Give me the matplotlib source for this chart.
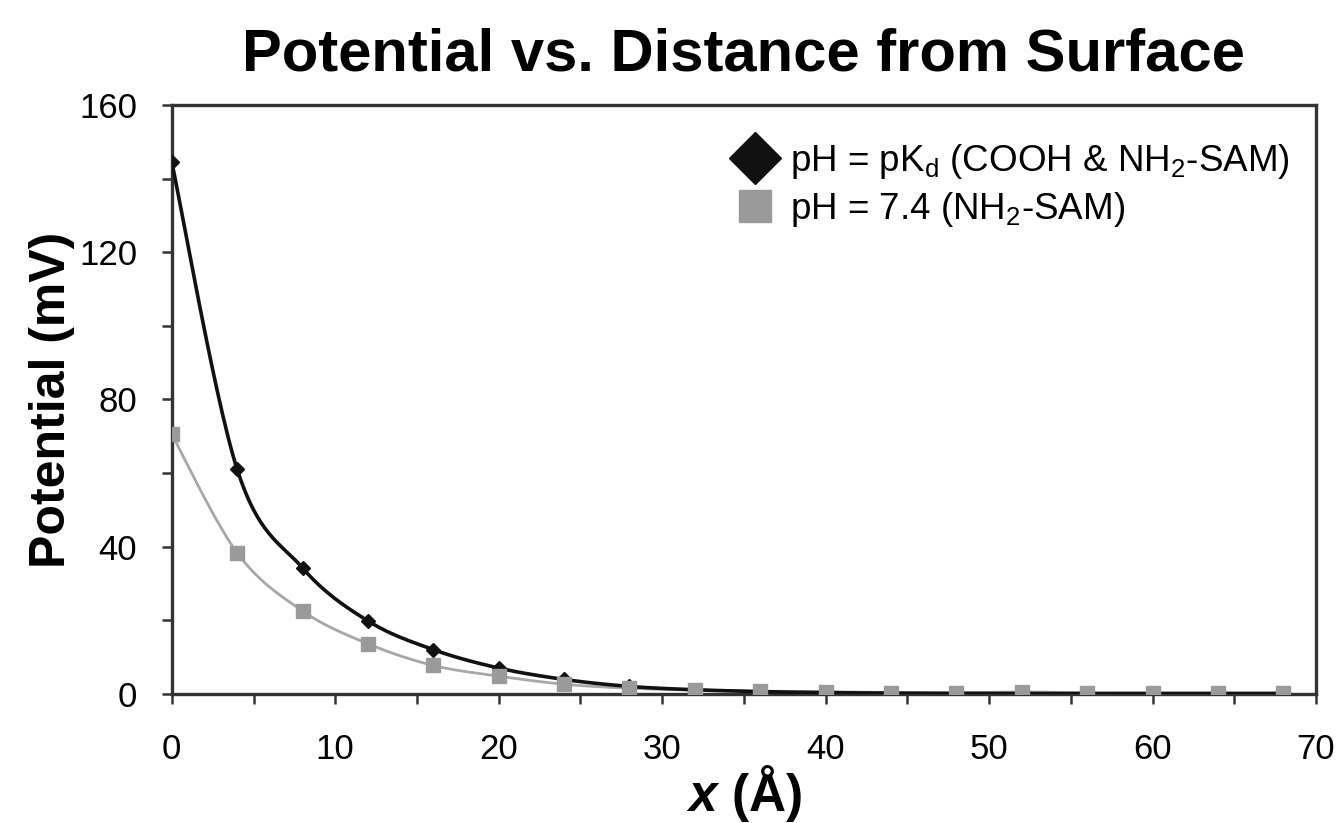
import numpy as np
import matplotlib
matplotlib.use("Agg")
import matplotlib.pyplot as plt
from matplotlib.lines import Line2D
from matplotlib.ticker import MultipleLocator

plt.rcParams['font.family'] = ['Liberation Sans', 'DejaVu Sans']
plt.rcParams['mathtext.fontset'] = 'custom'
plt.rcParams['mathtext.rm'] = 'Liberation Sans'
plt.rcParams['mathtext.it'] = 'Liberation Sans:italic:bold'
plt.rcParams['mathtext.bf'] = 'Liberation Sans:bold'

# Data
x_kd = [0, 4, 8, 12, 16, 20, 24, 28, 32, 36, 40, 44, 48, 52, 56, 60, 64, 68]
pot_kd = [144.5, 61, 34.2, 19.8, 12, 7, 3.9, 2.0, 1.1, 0.6, 0.3, 0.2, 0.1, 0.1, 0.05, 0.05, 0.05, 0.05]
x_74 = [0, 4, 8, 12, 16, 20, 24, 28, 32, 36, 40, 44, 48, 52, 56, 60, 64, 68]
pot_74 = [70.5, 38.3, 22.5, 13.6, 7.7, 4.8, 2.6, 1.5, 1.0, 0.7, 0.6, 0.3, 0.3, 0.5, 0.3, 0.3, 0.3, 0.3]

label_kd = r'pH = pK$_\mathrm{d}$ (COOH & NH$_\mathrm{2}$-SAM)'
label_74 = r'pH = 7.4 (NH$_\mathrm{2}$-SAM)'


def smooth(xs, ys, n=30):
    # Catmull-Rom spline (Excel-style smoothed line) through the data points
    xs = np.asarray(xs, float); ys = np.asarray(ys, float)
    P = np.column_stack([xs, ys])
    P = np.vstack([P[0], P, P[-1]])
    out = []
    t = np.linspace(0, 1, n)[:, None]
    for i in range(1, len(P) - 2):
        p0, p1, p2, p3 = P[i - 1], P[i], P[i + 1], P[i + 2]
        c = 0.5 * ((2 * p1) + (-p0 + p2) * t + (2 * p0 - 5 * p1 + 4 * p2 - p3) * t ** 2
                   + (-p0 + 3 * p1 - 3 * p2 + p3) * t ** 3)
        out.append(c)
    c = np.vstack(out)
    return c[:, 0], c[:, 1]


fig = plt.figure(figsize=(13.42, 8.23), dpi=100)
ax = fig.add_axes([0.128, 0.157, 0.8526, 0.7154])

gray = '#9a9a9a'
sx, sy = smooth(x_74, pot_74)
ax.plot(sx, sy, color='#a8a8a8', lw=2.0, zorder=2)
sx, sy = smooth(x_kd, pot_kd)
ax.plot(sx, sy, color='#111111', lw=2.6, zorder=3)
ax.plot(x_kd, pot_kd, ls='none', marker='D', ms=7, color='#111111', zorder=4)
ax.plot(x_74, pot_74, ls='none', marker='s', ms=10, color=gray, zorder=5)

ax.set_xlim(0, 70)
ax.set_ylim(0, 160)
ax.xaxis.set_major_locator(MultipleLocator(10))
ax.xaxis.set_minor_locator(MultipleLocator(5))
ax.yaxis.set_major_locator(MultipleLocator(40))
ax.yaxis.set_minor_locator(MultipleLocator(20))
for s in ax.spines.values():
    s.set_linewidth(2.4)
    s.set_color('#333333')
ax.tick_params(axis='both', which='both', direction='out', length=7, width=1.8,
               color='#333333', top=False, right=False)
ax.tick_params(axis='x', which='major', pad=21, labelsize=25)
ax.tick_params(axis='y', which='major', pad=18, labelsize=25)

ax.set_title('Potential vs. Distance from Surface', fontsize=43, fontweight='bold', pad=25)
ax.set_ylabel('Potential (mV)', fontsize=36, fontweight='bold', labelpad=3)
ax.set_xlabel(r'$x$ (Å)', fontsize=37, fontweight='bold', labelpad=-2)

handles = [Line2D([], [], ls='none', marker='D', ms=26, color='#111111'),
           Line2D([], [], ls='none', marker='s', ms=23, color=gray)]
ax.legend(handles, [label_kd, label_74], loc='upper right', frameon=False,
          fontsize=26.5, handletextpad=0.45, handlelength=1.0, labelspacing=0.25,
          bbox_to_anchor=(1.003, 0.988), borderaxespad=0.4)

fig.savefig('out.png', dpi=100, facecolor='white')
